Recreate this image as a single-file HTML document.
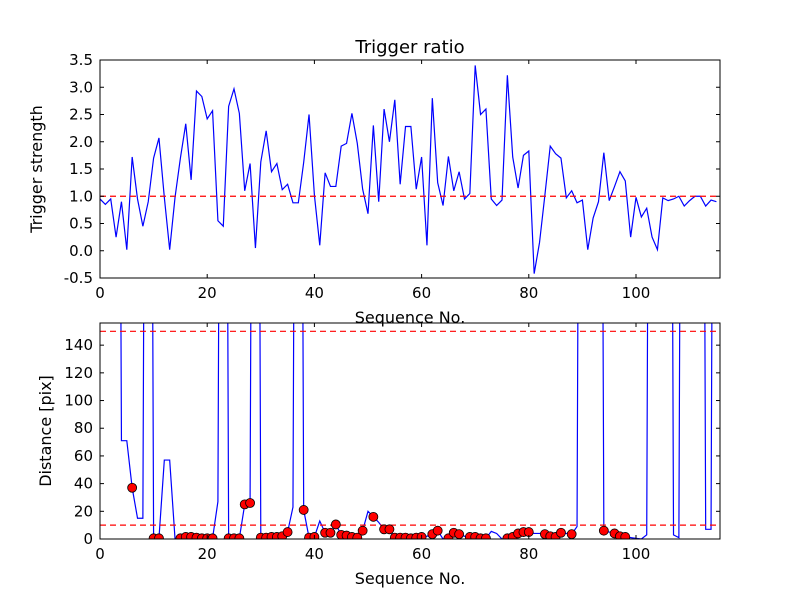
<!DOCTYPE html>
<html><head><meta charset="utf-8"><style>
body{margin:0;background:#fff}
svg text{font-family:"DejaVu Sans","Liberation Sans",sans-serif}
</style></head><body>
<svg id="chart" width="800" height="600" xmlns="http://www.w3.org/2000/svg">
<rect width="800" height="600" fill="#fff"/>
<defs>
<clipPath id="c1"><rect x="100" y="60" width="620" height="218"/></clipPath>
<clipPath id="c2"><rect x="100" y="323" width="620" height="216"/></clipPath>
</defs>
<g id="g"></g>
</svg>
<script>
const trigger=[0.95,0.85,0.95,0.25,0.9,0.02,1.72,0.95,0.45,0.9,1.7,2.07,0.98,0.02,0.98,1.7,2.33,1.3,2.93,2.83,2.42,2.57,0.55,0.45,2.65,2.97,2.52,1.1,1.6,0.05,1.63,2.2,1.45,1.6,1.12,1.22,0.88,0.88,1.62,2.5,1.02,0.1,1.43,1.18,1.18,1.92,1.97,2.52,1.97,1.13,0.68,2.3,0.9,2.6,2.0,2.77,1.22,2.28,2.28,1.13,1.72,0.1,2.8,1.25,0.83,1.73,1.1,1.45,0.95,1.05,3.4,2.5,2.6,0.95,0.83,0.93,3.22,1.72,1.15,1.75,1.83,-0.42,0.15,1.02,1.92,1.78,1.7,0.97,1.1,0.88,0.93,0.02,0.6,0.9,1.8,0.92,1.18,1.45,1.28,0.25,0.98,0.62,0.78,0.25,0.02,0.97,0.92,0.95,1.0,0.82,0.92,1.0,1.0,0.82,0.93,0.9];
const B=1000;
const distance=[B,B,B,B,71,71,37,15,15,B,0.5,0.5,57,57,0,0.5,1.5,1.5,1,0.5,0.5,0.5,27,B,0.5,0.5,0.5,25,26,B,1,1,1.5,1.5,2,5,23,B,21,1,1.5,13,4.5,4.5,10.5,3,2.5,1.5,1,6,20,16,12,7,7,1,1,1,0.5,1,1.5,2,3.5,6,0,0.5,4.5,3.5,2,1.5,1.5,0.5,0.5,5.5,4,0,0.5,1.5,4,5,5,4,4,3.5,2,1.5,4.5,4,3.5,9,B,B,B,B,6,5,4,2,1.5,1,0.5,0,3,B,B,B,B,3,1,B,B,B,B,7,7,B];
const markerIdx=[6,10,11,15,16,17,18,19,20,21,24,25,26,27,28,30,31,32,33,34,35,38,39,40,42,43,44,45,46,47,48,49,51,53,54,55,56,57,58,59,60,62,63,65,66,67,69,70,71,72,76,77,78,79,80,83,84,85,86,88,94,96,97,98];
const xTicks=[0,20,40,60,80,100];
const yTicksTop=[-0.5,0,0.5,1,1.5,2,2.5,3,3.5];
const yTicksBot=[0,20,40,60,80,100,120,140];
const thrTop=[1.0];
const thrBot=[150,10];

const NS="http://www.w3.org/2000/svg";
const g=document.getElementById('g');
function el(t,a,p){const e=document.createElementNS(NS,t);for(const k in a)e.setAttribute(k,a[k]);(p||g).appendChild(e);return e;}
const X=v=>100+v*5.36;
const L=100,R=720;
const Y1=v=>60+(3.5-v)*54.5;
const Y2=v=>539-v*1.3846;

function axes(top,bot,yt,Yf,fmt,name){
  const fr=el('rect',{x:L,y:top,width:R-L,height:bot-top,fill:'none',stroke:'#000','stroke-width':1});
  
  
  xTicks.forEach(t=>{
    const x=X(t);
    el('line',{x1:x,y1:bot,x2:x,y2:bot-4,stroke:'#000'});
    el('line',{x1:x,y1:top,x2:x,y2:top+4,stroke:'#000'});
    const tx=el('text',{x:x,y:bot+20,'font-size':15,'text-anchor':'middle'});
    tx.textContent=t;
    
    
  });
  yt.forEach(t=>{
    const y=Yf(t);
    el('line',{x1:L,y1:y,x2:L+4,y2:y,stroke:'#000'});
    el('line',{x1:R,y1:y,x2:R-4,y2:y,stroke:'#000'});
    const tx=el('text',{x:L-7,y:y+5,'font-size':15,'text-anchor':'end'});
    tx.textContent=fmt(t);
    
    
  });
  const xl=el('text',{x:410,y:bot+45,'font-size':16,'text-anchor':'middle'});
  xl.textContent='Sequence No.';
  
  
}
const p1=el('polyline',{points:trigger.map((v,i)=>X(i)+','+Y1(v)).join(' '),fill:'none',stroke:'#0000ff','stroke-width':1.2,'clip-path':'url(#c1)'});


thrTop.forEach(v=>{const l=el('line',{x1:L,x2:R,y1:Y1(v),y2:Y1(v),stroke:'#ff0000','stroke-width':1.2,'stroke-dasharray':'6,4'});

});
axes(60,278,yTicksTop,Y1,t=>t.toFixed(1),'top');
const p2=el('polyline',{points:distance.map((v,i)=>X(i)+','+Y2(v)).join(' '),fill:'none',stroke:'#0000ff','stroke-width':1.2,'clip-path':'url(#c2)'});


thrBot.forEach(v=>{const l=el('line',{x1:L,x2:R,y1:Y2(v),y2:Y2(v),stroke:'#ff0000','stroke-width':1.2,'stroke-dasharray':'6,4'});

});
markerIdx.forEach(i=>{const c=el('circle',{cx:X(i),cy:Y2(distance[i]),r:4.5,fill:'#ff0000',stroke:'#000','stroke-width':0.8,'clip-path':'url(#c2)'});

});
axes(323,539,yTicksBot,Y2,t=>String(t),'bottom');

const ti=el('text',{x:410,y:53,'font-size':18,'text-anchor':'middle'});ti.textContent='Trigger ratio';


const y1=el('text',{x:42,y:169,'font-size':16,'text-anchor':'middle',transform:'rotate(-90 42 169)'});y1.textContent='Trigger strength';


const y2=el('text',{x:51,y:431,'font-size':16,'text-anchor':'middle',transform:'rotate(-90 51 431)'});y2.textContent='Distance [pix]';


</script>
</body></html>
